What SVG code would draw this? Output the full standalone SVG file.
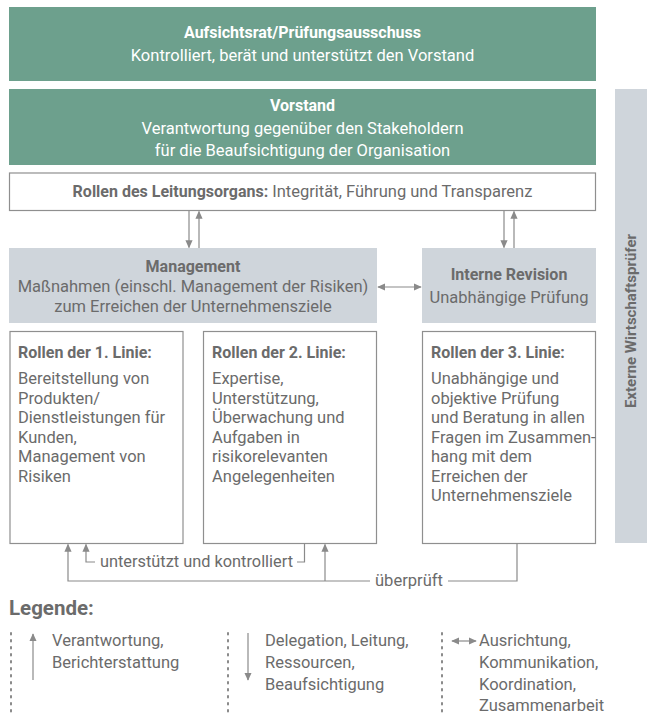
<svg xmlns="http://www.w3.org/2000/svg" width="647" height="716" viewBox="0 0 647 716">
<defs>
<marker id="ah" viewBox="0 0 10 10" refX="9" refY="5" markerWidth="8" markerHeight="8" markerUnits="userSpaceOnUse" orient="auto-start-reverse">
<path d="M0,0.5 L10,5 L0,9.5 z" fill="#8a8a8a"/>
</marker>
<style>
text{font-family:Roboto,"Liberation Sans",sans-serif;font-size:16.5px;fill:#6b6b6b}
.w{fill:#ffffff}
.b{font-weight:bold;font-size:16px}
.c{text-anchor:middle}
.green{fill:#6da08d}
.grey{fill:#cfd5db}
.box{fill:#ffffff;stroke:#8f8f8f;stroke-width:1.2}
.ln{fill:none;stroke:#8a8a8a;stroke-width:1.2}
.ar{fill:none;stroke:#8a8a8a;stroke-width:1.2;marker-end:url(#ah)}
.dot{fill:none;stroke:#8a8a8a;stroke-width:2;stroke-dasharray:1.5 5.5;stroke-linecap:round}
</style>
</defs>
<rect width="647" height="716" fill="#ffffff"/>

<g id="aufsichtsrat">
<rect class="green" x="9" y="7" width="587" height="74"/>
<text class="w b c" x="302.5" y="38">Aufsichtsrat/Prüfungsausschuss</text>
<text class="w c" x="302.5" y="61">Kontrolliert, berät und unterstützt den Vorstand</text>
</g>

<g id="vorstand">
<rect class="green" x="9" y="89" width="587" height="76"/>
<text class="w b c" x="302.5" y="111">Vorstand</text>
<text class="w c" x="302.5" y="134">Verantwortung gegenüber den Stakeholdern</text>
<text class="w c" x="302.5" y="156">für die Beaufsichtigung der Organisation</text>
</g>

<g id="externe">
<rect class="grey" x="615" y="89" width="32" height="454"/>
<text class="b c" transform="translate(636,321) rotate(-90)" x="0" y="0" style="font-size:15px">Externe Wirtschaftsprüfer</text>
</g>

<g id="leitungsorgan">
<rect class="box" x="9.5" y="173" width="586" height="37.5"/>
<text class="c" x="302.5" y="197"><tspan class="b">Rollen des Leitungsorgans:</tspan> Integrität, Führung und Transparenz</text>
</g>

<g id="management">
<rect class="grey" x="9" y="248" width="368" height="75"/>
<text class="b c" x="193" y="272">Management</text>
<text class="c" x="193" y="292">Maßnahmen (einschl. Management der Risiken)</text>
<text class="c" x="193" y="312">zum Erreichen der Unternehmensziele</text>
</g>

<g id="revision">
<rect class="grey" x="422" y="248" width="174" height="75"/>
<text class="b c" x="509" y="280">Interne Revision</text>
<text class="c" x="509" y="303">Unabhängige Prüfung</text>
</g>

<g id="linie1">
<rect class="box" x="10" y="331.5" width="173" height="212"/>
<text class="b" x="18" y="358">Rollen der 1. Linie:</text>
<text x="18" y="384">Bereitstellung von</text>
<text x="18" y="403.5">Produkten/</text>
<text x="18" y="423">Dienstleistungen für</text>
<text x="18" y="442.5">Kunden,</text>
<text x="18" y="462">Management von</text>
<text x="18" y="481.5">Risiken</text>
</g>

<g id="linie2">
<rect class="box" x="203.5" y="331.5" width="173" height="212"/>
<text class="b" x="212" y="358">Rollen der 2. Linie:</text>
<text x="212" y="384">Expertise,</text>
<text x="212" y="403.5">Unterstützung,</text>
<text x="212" y="423">Überwachung und</text>
<text x="212" y="442.5">Aufgaben in</text>
<text x="212" y="462">risikorelevanten</text>
<text x="212" y="481.5">Angelegenheiten</text>
</g>

<g id="linie3">
<rect class="box" x="422.5" y="331.5" width="173" height="212"/>
<text class="b" x="431" y="358">Rollen der 3. Linie:</text>
<text x="431" y="384">Unabhängige und</text>
<text x="431" y="403.5">objektive Prüfung</text>
<text x="431" y="423">und Beratung in allen</text>
<text x="431" y="442.5">Fragen im Zusammen-</text>
<text x="431" y="462">hang mit dem</text>
<text x="431" y="481.5">Erreichen der</text>
<text x="431" y="501">Unternehmensziele</text>
</g>

<g id="connectors">
<line class="ar" x1="189" y1="211" x2="189" y2="247.5"/>
<line class="ar" x1="199" y1="248" x2="199" y2="211.5"/>
<line class="ar" x1="504" y1="211" x2="504" y2="247.5"/>
<line class="ar" x1="514" y1="248" x2="514" y2="211.5"/>
<line class="ar" x1="378" y1="287" x2="421" y2="287" style="marker-start:url(#ah)"/>
<polyline class="ar" points="95,562 86,562 86,544.5"/>
<polyline class="ln" points="304.5,543.5 304.5,562 297,562"/>
<polyline class="ar" points="370,581 68,581 68,544.5"/>
<line class="ar" x1="325" y1="581" x2="325" y2="544.5"/>
<polyline class="ln" points="448,581 517,581 517,543.5"/>
<text x="100" y="567" textLength="193" lengthAdjust="spacingAndGlyphs">unterstützt und kontrolliert</text>
<text x="375" y="586" textLength="68" lengthAdjust="spacingAndGlyphs">überprüft</text>
</g>

<g id="legende">
<text class="b" x="9" y="615" style="font-size:20.5px">Legende:</text>
<line class="dot" x1="11" y1="633" x2="11" y2="712"/>
<line class="ar" x1="33" y1="680" x2="33" y2="634"/>
<text x="52" y="646">Verantwortung,</text>
<text x="52" y="668">Berichterstattung</text>
<line class="dot" x1="228" y1="633" x2="228" y2="712"/>
<line class="ar" x1="248" y1="633" x2="248" y2="680"/>
<text x="265" y="646">Delegation, Leitung,</text>
<text x="265" y="668">Ressourcen,</text>
<text x="265" y="690">Beaufsichtigung</text>
<line class="dot" x1="442" y1="633" x2="442" y2="712"/>
<line class="ar" x1="452" y1="641" x2="476" y2="641" style="marker-start:url(#ah)"/>
<text x="479" y="646">Ausrichtung,</text>
<text x="479" y="668">Kommunikation,</text>
<text x="479" y="690">Koordination,</text>
<text x="479" y="711">Zusammenarbeit</text>
</g>
</svg>
